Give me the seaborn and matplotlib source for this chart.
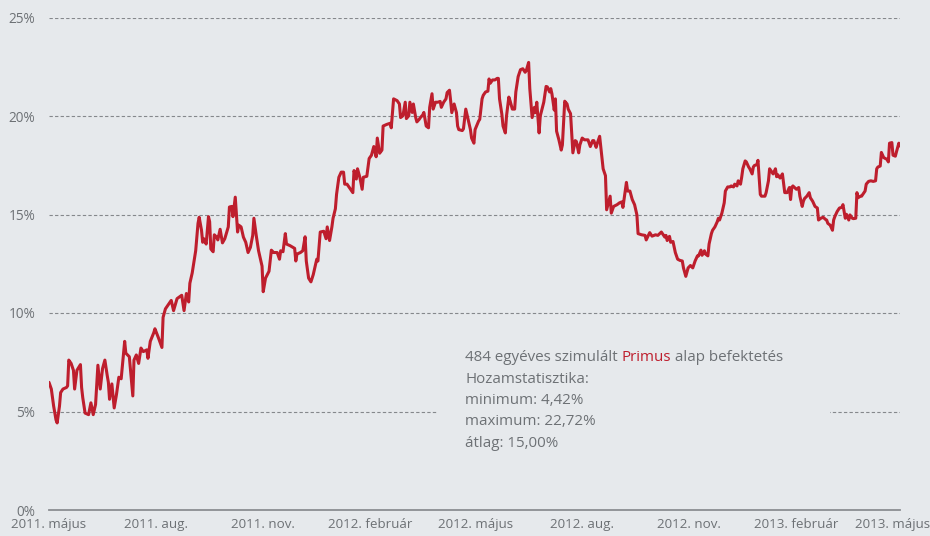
"""Simulated one-year Primus fund yields, rolling start dates 2011-2013."""

import matplotlib

matplotlib.use("Agg")

import matplotlib.pyplot as plt
import matplotlib.transforms as mtransforms
import pandas as pd
import seaborn as sns
from matplotlib.patches import Rectangle

START_DATE = "2011-05-01"

# calendar days after START_DATE
day_offset = [
    0, 2, 4, 6, 7, 9, 10, 12, 15, 16, 17, 19, 21, 22, 24, 27, 28, 29, 31, 34,
    36, 38, 40, 42, 44, 46, 48, 50, 51, 52, 54, 56, 58, 60, 62, 65, 66, 69, 72, 73,
    75, 77, 79, 81, 84, 85, 87, 90, 91, 94, 97, 98, 100, 102, 105, 107, 110, 114, 116, 118,
    120, 121, 123, 126, 128, 129, 131, 132, 133, 135, 137, 138, 139, 141, 142, 144, 145, 147, 149, 151,
    154, 155, 157, 158, 160, 162, 163, 165, 167, 169, 171, 173, 175, 176, 178, 180, 183, 184, 186, 189,
    191, 193, 196, 198, 199, 201, 203, 204, 207, 211, 212, 213, 216, 218, 220, 221, 223, 225, 227, 230,
    231, 233, 236, 238, 239, 241, 243, 244, 246, 247, 249, 251, 253, 254, 256, 259, 261, 262, 264, 265,
    267, 269, 270, 273, 275, 277, 279, 281, 282, 284, 286, 287, 290, 293, 294, 296, 299, 301, 302, 304,
    306, 307, 309, 310, 312, 313, 315, 316, 318, 319, 321, 322, 324, 326, 327, 329, 330, 332, 334, 336,
    337, 339, 341, 342, 344, 345, 346, 348, 350, 351, 352, 355, 356, 358, 360, 362, 363, 365, 366, 369,
    370, 372, 373, 375, 377, 378, 379, 381, 383, 385, 386, 387, 389, 390, 392, 393, 395, 396, 398, 400,
    401, 403, 405, 407, 409, 410, 412, 413, 415, 417, 418, 419, 421, 422, 425, 427, 428, 430, 431, 432,
    434, 435, 436, 438, 440, 441, 443, 445, 446, 448, 449, 450, 452, 453, 455, 456, 458, 460, 463, 465,
    467, 468, 470, 471, 473, 476, 478, 479, 482, 483, 485, 488, 490, 492, 493, 496, 497, 499, 501, 503,
    505, 506, 509, 512, 513, 516, 518, 521, 523, 526, 529, 530, 531, 533, 534, 536, 538, 540, 542, 544,
    545, 547, 549, 551, 553, 555, 557, 558, 560, 561, 563, 564, 566, 567, 569, 570, 572, 574, 575, 576,
    578, 580, 581, 583, 585, 586, 588, 589, 591, 592, 594, 595, 596, 598, 599, 601, 602, 604, 605, 606,
    608, 609, 611, 612, 615, 616, 618, 619, 621, 622, 624, 625, 626, 628, 630, 632, 634, 636, 637, 638,
    639, 642, 644, 645, 647, 648, 649, 651, 653, 654, 656, 658, 660, 661, 663, 665, 667, 668, 669, 671,
    673, 674, 675, 677, 679, 681, 682, 684, 685, 687, 688, 690, 691, 693, 694, 695, 697, 698, 699, 701,
    702, 704, 706, 708, 710, 711, 712, 714, 715, 717, 720, 721, 722, 724, 725, 727, 728, 730, 731,
]

# one-year yield in percent
yield_pct = [
    6.48, 6.14, 5.27, 4.58, 4.42, 5.27, 5.96, 6.14, 6.22, 6.30, 7.61, 7.44, 7.09, 6.14, 7.09, 7.38, 6.22, 5.70, 4.92, 4.84,
    5.44, 4.84, 5.36, 7.35, 6.14, 7.18, 7.61, 6.83, 6.48, 5.62, 6.40, 5.18, 5.88, 6.74, 6.66, 8.56, 7.96, 7.78, 5.79, 7.61,
    7.87, 7.44, 8.22, 8.04, 8.13, 7.70, 8.56, 9.00, 9.20, 8.74, 8.25, 9.78, 10.21, 10.38, 10.64, 10.12, 10.73, 10.90, 10.12, 10.99,
    10.56, 11.51, 12.03, 13.16, 14.55, 14.86, 14.20, 13.59, 13.77, 13.50, 14.89, 14.63, 13.25, 13.11, 13.97, 13.85, 13.71, 14.25, 13.56, 13.77,
    14.37, 15.38, 15.41, 14.89, 15.88, 14.11, 14.46, 14.37, 13.85, 13.59, 13.07, 13.33, 13.94, 14.81, 13.94, 13.16, 12.38, 11.08, 11.77, 12.12,
    13.19, 13.07, 13.07, 12.73, 13.16, 13.11, 14.03, 13.50, 13.42, 13.28, 12.64, 12.99, 13.07, 13.16, 13.87, 12.64, 11.77, 11.58, 11.95, 12.73,
    12.64, 14.11, 14.15, 13.77, 14.37, 13.68, 14.37, 14.81, 15.29, 16.02, 16.89, 17.15, 17.15, 16.54, 16.54, 16.28, 16.11, 17.23, 16.80, 17.32,
    16.89, 16.28, 16.89, 16.94, 17.84, 18.01, 18.45, 17.93, 18.88, 18.11, 18.27, 19.49, 19.57, 19.63, 19.40, 20.87, 20.78, 20.61, 19.92, 20.01,
    20.70, 19.87, 20.01, 20.70, 20.18, 20.61, 19.92, 19.70, 19.83, 19.92, 20.05, 20.18, 19.49, 19.40, 20.44, 21.13, 20.35, 20.70, 20.70, 20.74,
    20.44, 20.70, 20.87, 21.19, 21.31, 20.78, 20.17, 20.61, 20.17, 19.49, 19.31, 19.26, 19.35, 20.35, 19.83, 19.31, 18.88, 18.62, 19.31, 19.74,
    19.83, 20.87, 21.05, 21.22, 21.26, 21.88, 21.66, 21.83, 21.83, 21.91, 21.91, 20.87, 20.09, 19.49, 19.14, 20.00, 20.96, 20.78, 20.35, 20.35,
    21.22, 22.00, 22.35, 22.40, 22.22, 22.31, 22.72, 21.39, 19.92, 20.44, 20.17, 20.70, 19.14, 20.00, 20.70, 21.50, 21.48, 21.22, 21.39, 21.13,
    20.30, 20.87, 19.23, 18.79, 18.27, 18.53, 20.75, 20.61, 20.35, 20.12, 19.14, 18.13, 18.75, 18.71, 18.13, 18.53, 18.88, 18.79, 18.79, 18.45,
    18.75, 18.75, 18.41, 18.62, 18.97, 17.32, 16.97, 15.24, 15.93, 15.07, 15.41, 15.50, 15.59, 15.64, 15.36, 16.63, 16.19, 16.19, 15.76, 15.50,
    14.98, 14.03, 13.97, 13.94, 13.71, 14.08, 13.90, 13.97, 13.94, 14.11, 13.85, 13.94, 13.68, 13.89, 13.59, 13.63, 13.07, 12.73, 12.67, 12.64,
    12.29, 11.86, 12.29, 12.41, 12.29, 12.64, 12.90, 12.90, 13.19, 12.93, 13.16, 12.99, 12.90, 13.50, 14.03, 14.20, 14.37, 14.63, 14.81, 14.72,
    15.07, 15.59, 16.19, 16.40, 16.40, 16.45, 16.40, 16.54, 16.45, 16.71, 16.54, 16.89, 17.32, 17.72, 17.67, 17.41, 17.32, 17.06, 17.41, 17.49,
    17.53, 17.75, 16.02, 15.93, 15.93, 16.11, 16.71, 17.32, 17.15, 17.06, 17.32, 16.92, 17.02, 16.85, 17.06, 16.11, 16.11, 16.37, 15.76, 16.37,
    16.45, 16.28, 16.37, 15.93, 15.41, 15.67, 15.81, 15.93, 16.11, 15.85, 15.67, 15.41, 15.33, 14.72, 14.81, 14.86, 14.75, 14.72, 14.55, 14.46,
    14.20, 14.72, 14.89, 15.15, 15.33, 15.36, 15.50, 14.81, 15.01, 14.72, 14.98, 14.81, 14.79, 14.81, 16.11, 15.85, 15.93, 15.93, 16.02, 16.19,
    16.54, 16.68, 16.71, 16.68, 16.71, 17.32, 17.41, 17.46, 18.15, 17.89, 17.79, 17.67, 18.62, 18.65, 18.01, 17.96, 18.19, 18.62, 18.48,
]

y_ticks = [0, 5, 10, 15, 20, 25]
x_tick_labels = [
    "2011. május", "2011. aug.", "2011. nov.", "2012. február", "2012. május",
    "2012. aug.", "2012. nov.", "2013. február", "2013. május",
]
note_lines = ["Hozamstatisztika:", "minimum: 4,42%", "maximum: 22,72%", "átlag: 15,00%"]

BG = "#e6e9ec"
RED = "#be1e2d"
GREY_TEXT = "#6d7175"
FONT = ["Open Sans", "DejaVu Sans"]
NOTE_SIZE = 10.9


def main() -> None:
    sns.set_style("white")
    plt.rcParams["font.family"] = FONT

    df = pd.DataFrame({
        "date": pd.Timestamp(START_DATE) + pd.to_timedelta(day_offset, unit="D"),
        "yield": yield_pct,
    })

    fig = plt.figure(figsize=(9.3, 5.36), dpi=100, facecolor=BG)
    ax = fig.add_axes([49 / 930, 26 / 536, 851 / 930, 492.5 / 536])
    ax.set_facecolor(BG)

    sns.lineplot(data=df, x="date", y="yield", ax=ax, color=RED, linewidth=2.2,
                 estimator=None, zorder=3)

    ax.set_xlim(pd.Timestamp(START_DATE), pd.Timestamp("2013-05-01"))
    ax.set_ylim(0, 25)
    ax.set_xlabel("")
    ax.set_ylabel("")

    quarter_starts = pd.date_range(START_DATE, "2013-05-01", freq="3MS")
    ax.set_xticks(quarter_starts)
    ax.set_xticklabels(x_tick_labels)
    ax.set_yticks(y_ticks)
    ax.set_yticklabels([f"{t}%" for t in y_ticks])

    for side in ["top", "right", "left"]:
        ax.spines[side].set_visible(False)
    ax.spines["bottom"].set_color("#8b8e92")
    ax.spines["bottom"].set_linewidth(1.3)
    ax.tick_params(axis="x", length=4, width=1.3, color="#8b8e92", pad=2,
                   labelsize=9.6, labelcolor=GREY_TEXT)
    ax.tick_params(axis="y", length=0, pad=10, labelsize=9.8, labelcolor=GREY_TEXT)

    # last label sits against the right edge
    last = ax.get_xticklabels()[-1]
    last.set_transform(last.get_transform()
                       + mtransforms.ScaledTranslation(-7 / 100, 0, fig.dpi_scale_trans))

    # dashed horizontal grid, not at zero
    ax.grid(False)
    for t in y_ticks[1:]:
        ax.axhline(t, color="#85888c", linewidth=0.8, linestyle=(0, (3, 2)), zorder=1)

    # background-coloured box hides the grid behind the note
    ax.add_patch(Rectangle((0.456, 0.122), 0.462, 0.224, transform=ax.transAxes,
                           facecolor=BG, edgecolor="none", zorder=2))

    first = ax.text(0.5, 1 - 357.7 / 536, "484 egyéves szimulált ", transform=fig.transFigure,
                    color=GREY_TEXT, fontsize=NOTE_SIZE, va="center", ha="left", zorder=4)
    word = ax.annotate("Primus", xy=(1, 0), xycoords=first, color=RED, fontsize=NOTE_SIZE,
                       va="bottom", ha="left", zorder=4)
    ax.annotate(" alap befektetés", xy=(1, 0), xycoords=word, color=GREY_TEXT,
                fontsize=NOTE_SIZE, va="bottom", ha="left", zorder=4)
    for i, line in enumerate(note_lines):
        ax.text(0.5, 1 - (357.7 + 21.4 * (i + 1)) / 536, line, transform=fig.transFigure,
                color=GREY_TEXT, fontsize=NOTE_SIZE, va="center", ha="left", zorder=4)

    fig.savefig("out.png", dpi=100, facecolor=BG)
    plt.close(fig)


if __name__ == "__main__":
    main()
